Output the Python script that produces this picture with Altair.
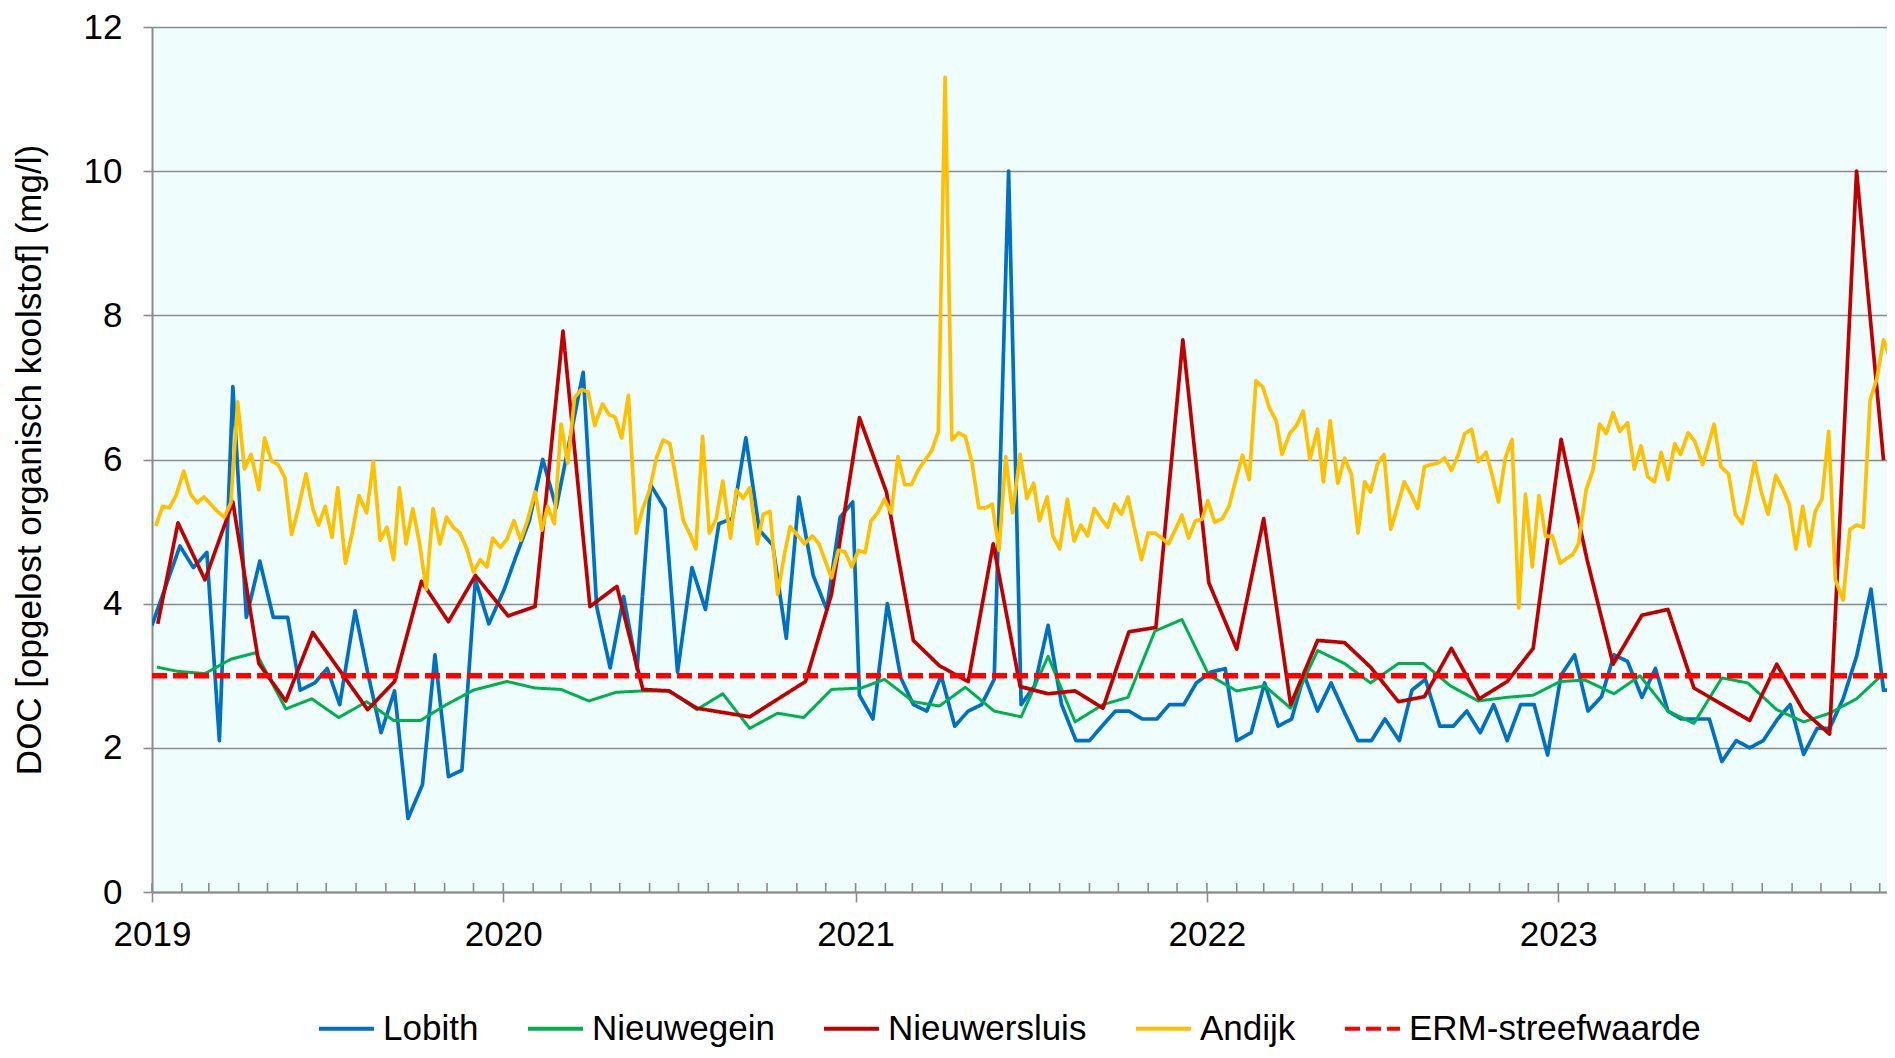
import altair as alt
import pandas as pd

# ---- data (day offset from 2019-01-01, value in mg/l) ----
SERIES = ["Lobith", "Nieuwegein", "Nieuwersluis", "Andijk", "ERM-streefwaarde"]
COLORS = ["#0070C0", "#00B050", "#C00000", "#FFC000", "#FF0000"]
DASHES = [[1, 0], [1, 0], [1, 0], [1, 0], [15, 6]]
WIDTHS = [3.7, 3.0, 3.7, 3.7, 5.5]
YEAR_TICKS = [2019, 2020, 2021, 2022, 2023]
Y_TICKS = [0, 2, 4, 6, 8, 10, 12]

lobith = [(0,3.70),(29,4.80),(43,4.50),(57,4.71),(70,2.10),(84,7.01),(98,3.81),(112,4.59),(126,3.81),(141,3.81),
          (154,2.80),(169,2.90),(182,3.10),(195,2.60),(211,3.90),(224,3.05),(238,2.21),(252,2.79),(266,1.02),(281,1.49),
          (294,3.29),(308,1.60),(322,1.69),(336,4.33),(350,3.72),(366,4.20),(378,4.65),(392,5.15),(406,6.00),(420,5.33),
          (448,7.21),(462,3.96),(476,3.11),(490,4.10),(504,3.09),(518,5.65),(533,5.32),(546,3.05),(561,4.50),(575,3.92),
          (589,5.11),(603,5.18),(617,6.30),(631,5.02),(645,4.81),(659,3.52),(672,5.48),(687,4.39),(701,3.92),(715,5.20),
          (728,5.41),(735,2.73),(749,2.40),(764,4.00),(778,2.97),(791,2.60),(805,2.51),(820,3.00),(834,2.30),(848,2.51),
          (862,2.60),(875,2.95),(890,10.0),(903,2.60),(917,2.86),(931,3.70),(945,2.60),(960,2.10),(974,2.10),(987,2.30),
          (1001,2.51),(1015,2.51),(1029,2.40),(1044,2.40),(1057,2.60),(1072,2.60),(1085,2.90),(1100,3.05),(1115,3.10),
          (1127,2.10),(1142,2.21),(1156,2.90),(1170,2.30),(1184,2.40),(1197,3.01),(1211,2.51),(1225,2.90),(1239,2.49),
          (1253,2.10),(1267,2.10),(1281,2.40),(1296,2.10),(1309,2.80),(1323,2.95),(1338,2.30),(1352,2.30),(1366,2.51),
          (1380,2.21),(1394,2.60),(1408,2.10),(1422,2.60),(1436,2.60),(1450,1.90),(1464,3.01),(1478,3.29),(1492,2.51),
          (1506,2.71),(1519,3.29),(1533,3.20),(1548,2.70),(1562,3.10),(1575,2.51),(1589,2.40),(1603,2.40),(1618,2.40),
          (1631,1.81),(1646,2.10),(1660,2.00),(1674,2.10),(1689,2.40),(1702,2.60),(1716,1.91),(1730,2.27),(1743,2.27),
          (1757,2.68),(1771,3.27),(1786,4.20),(1799,2.80),(1811,2.80)]

nieuwegein = [(5,3.12),(27,3.06),(55,3.03),(82,3.23),(108,3.32),(139,2.54),(166,2.68),(194,2.42),(223,2.64),(251,2.38),
              (279,2.38),(306,2.60),(334,2.80),(369,2.92),(398,2.83),(425,2.81),(454,2.65),(482,2.77),(510,2.79),(538,2.79),
              (566,2.53),(593,2.75),(621,2.27),(650,2.48),(677,2.42),(706,2.81),(737,2.83),(761,2.95),(791,2.64),(818,2.58),
              (845,2.84),(875,2.51),(903,2.43),(931,3.27),(959,2.36),(988,2.60),(1014,2.70),(1042,3.62),(1070,3.78),
              (1098,3.01),(1127,2.79),(1156,2.86),(1183,2.55),(1211,3.35),(1239,3.17),(1266,2.90),(1295,3.17),(1321,3.17),
              (1349,2.86),(1378,2.65),(1407,2.70),(1435,2.73),(1463,2.92),(1489,2.94),(1519,2.75),(1546,3.00),(1575,2.51),
              (1602,2.34),(1631,2.97),(1658,2.90),(1688,2.53),(1716,2.36),(1743,2.48),(1771,2.68),(1799,3.03)]

nieuwersluis = [(6,3.72),(27,5.12),(55,4.33),(84,5.41),(111,3.17),(139,2.65),(167,3.60),(224,2.53),(252,2.92),(280,4.31),
                (308,3.75),(336,4.39),(370,3.83),(398,3.96),(427,7.78),(455,3.96),(483,4.24),(510,2.81),(537,2.79),(566,2.55),
                (621,2.43),(679,2.92),(706,4.13),(735,6.58),(763,5.55),(791,3.49),(818,3.14),(848,2.92),(874,4.83),(902,2.85),
                (931,2.75),(959,2.79),(988,2.55),(1015,3.61),(1043,3.67),(1071,7.66),(1098,4.29),(1127,3.37),(1155,5.18),
                (1183,2.60),(1211,3.49),(1239,3.46),(1266,3.12),(1295,2.64),(1322,2.71),(1350,3.38),(1379,2.68),(1408,2.92),
                (1435,3.38),(1464,6.28),(1491,4.61),(1518,3.16),(1548,3.84),(1575,3.92),(1602,2.83),(1660,2.38),(1688,3.16),
                (1716,2.51),(1743,2.19),(1771,10.0),(1799,5.99)]

andijk = [(4,5.08),(11,5.35),(18,5.33),(25,5.50),(33,5.84),(40,5.52),(47,5.40),(54,5.48),(61,5.38),(68,5.28),(75,5.20),
          (82,5.40),(89,6.80),(96,5.87),(103,6.07),(111,5.58),(117,6.30),(124,5.98),(131,5.93),(138,5.75),(145,4.96),
          (152,5.32),(160,5.80),(167,5.32),(173,5.09),(180,5.35),(187,4.92),(193,5.61),(201,4.56),(208,4.98),(215,5.50),
          (223,5.26),(230,5.97),(237,4.88),(244,5.06),(251,4.61),(257,5.61),(264,4.83),(271,5.32),(278,4.83),(285,4.20),
          (292,5.32),(299,4.83),(306,5.20),(313,5.06),(320,4.98),(327,4.76),(334,4.44),(341,4.61),(348,4.51),(354,4.91),
          (362,4.78),(369,4.90),(376,5.15),(383,4.88),(390,5.15),(398,5.55),(405,5.02),(411,5.35),(418,5.11),(425,6.49),
          (432,5.95),(439,6.86),(446,6.97),(453,6.94),(460,6.47),(468,6.77),(475,6.62),(481,6.59),(488,6.30),(495,6.89),
          (503,4.98),(510,5.32),(517,5.58),(524,6.02),(531,6.27),(538,6.22),(545,5.69),(552,5.15),(559,4.96),(565,4.76),
          (572,6.32),(579,4.98),(586,5.17),(593,5.70),(601,4.91),(607,5.58),(614,5.46),(621,5.61),(629,4.83),(635,5.24),
          (642,5.28),(650,4.13),(657,4.68),(663,5.07),(670,4.96),(678,4.83),(686,4.94),(693,4.83),(699,4.61),(706,4.36),
          (713,4.74),(720,4.72),(727,4.51),(734,4.74),(741,4.71),(747,5.15),(754,5.26),(761,5.45),(768,5.26),(775,6.04),
          (782,5.65),(789,5.65),(796,5.85),(803,5.99),(810,6.12),(817,6.39),(824,11.30),(831,6.27),(838,6.37),(845,6.32),
          (852,5.95),(859,5.33),(866,5.33),(873,5.38),(880,4.74),(887,6.04),(894,5.26),(902,6.07),(909,5.46),(916,5.67),
          (922,5.15),(930,5.48),(936,4.94),(943,4.76),(951,5.45),(958,4.87),(965,5.09),(972,4.94),(979,5.32),(986,5.18),
          (993,5.06),(1000,5.38),(1007,5.24),(1014,5.48),(1021,5.03),(1028,4.61),(1035,4.98),(1042,4.98),(1049,4.91),
          (1056,4.83),(1063,5.02),(1070,5.23),(1077,4.91),(1084,5.15),(1091,5.17),(1097,5.43),(1104,5.13),(1112,5.18),
          (1119,5.35),(1126,5.72),(1133,6.06),(1140,5.72),(1147,7.09),(1154,7.01),(1161,6.71),(1168,6.54),(1174,6.07),
          (1182,6.36),(1189,6.47),(1196,6.67),(1203,6.00),(1211,6.42),(1217,5.69),(1224,6.54),(1232,5.67),(1239,6.02),
          (1246,5.80),(1253,4.98),(1260,5.69),(1266,5.55),(1273,5.93),(1280,6.07),(1287,5.03),(1294,5.35),(1301,5.69),
          (1308,5.52),(1315,5.32),(1322,5.90),(1329,5.93),(1336,5.95),(1343,6.02),(1350,5.85),(1357,6.06),(1364,6.36),
          (1371,6.42),(1378,5.97),(1386,6.10),(1392,5.80),(1399,5.41),(1406,6.02),(1413,6.28),(1420,3.94),(1427,5.52),
          (1434,4.51),(1441,5.50),(1448,4.93),(1455,4.94),(1463,4.56),(1470,4.63),(1476,4.68),(1482,4.83),(1490,5.58),
          (1497,5.85),(1504,6.49),(1511,6.36),(1518,6.65),(1525,6.39),(1533,6.51),(1540,5.87),(1547,6.19),(1554,5.76),
          (1561,5.69),(1568,6.10),(1575,5.72),(1582,6.22),(1588,6.07),(1596,6.37),(1603,6.25),(1611,5.93),(1617,6.21),
          (1623,6.49),(1630,5.90),(1638,5.80),(1645,5.24),(1652,5.11),(1659,5.54),(1665,5.97),(1672,5.55),(1679,5.24),
          (1687,5.78),(1694,5.60),(1701,5.38),(1708,4.76),(1715,5.35),(1722,4.80),(1728,5.28),(1735,5.45),(1742,6.39),
          (1749,4.33),(1757,4.05),(1764,5.03),(1771,5.09),(1778,5.06),(1785,6.82),(1792,7.12),(1799,7.66),(1806,7.40),
          (1811,7.40)]

erm = [(0, 3.0), (1815, 3.0)]

START = pd.Timestamp("2019-01-01")
rows = []
for name, pts in zip(SERIES, [lobith, nieuwegein, nieuwersluis, andijk, erm]):
    for d, v in pts:
        rows.append({"date": START + pd.Timedelta(days=d), "value": v, "series": name})
df = pd.DataFrame(rows)

months = pd.DataFrame({"date": pd.date_range("2019-01-01", "2023-12-01", freq="MS")})

FONT = "Liberation Sans"
GRID = "#8a8a8a"

x_enc = alt.X(
    "date:T",
    title=None,
    scale=alt.Scale(domain=[alt.DateTime(year=2019, month=1, date=1),
                            alt.DateTime(year=2023, month=12, date=8, hours=14, minutes=24)]),
    axis=alt.Axis(values=[alt.DateTime(year=y, month=1, date=1) for y in YEAR_TICKS],
                  format="%Y", labelFontSize=35, labelFont=FONT, labelColor="black",
                  labelPadding=15, labelFlush=False, tickSize=10, tickColor=GRID, tickWidth=1.6,
                  domainColor=GRID, domainWidth=2, grid=False),
)

y_enc = alt.Y("value:Q", scale=alt.Scale(domain=[0, 12], nice=False),
              axis=alt.Axis(values=Y_TICKS, format="d",
                            title="DOC [opgelost organisch koolstof] (mg/l)",
                            titleFontSize=35, titleFont=FONT, titleFontWeight="normal", titleColor="black",
                            titleX=-123, titleY=432.5, titleAngle=270, titleAlign="center",
                            titleBaseline="middle",
                            labelFontSize=35, labelFont=FONT, labelColor="black", labelPadding=21,
                            tickSize=9, tickColor=GRID, tickWidth=1.6,
                            grid=True, gridColor=GRID, gridWidth=1.6,
                            domainColor=GRID, domainWidth=2))

legend = alt.Legend(orient="none", legendX=165, legendY=972, direction="horizontal", title=None,
                    symbolType="stroke", symbolSize=3025, symbolStrokeWidth=4,
                    labelFontSize=35, labelFont=FONT, labelColor="black", labelLimit=600,
                    columnPadding=41, labelOffset=7, padding=0)

color_enc = alt.Color("series:N", scale=alt.Scale(domain=SERIES, range=COLORS), legend=legend)
dash_enc = alt.StrokeDash("series:N", scale=alt.Scale(domain=SERIES, range=DASHES), legend=legend)

minor = alt.Chart(months).mark_rule(color=GRID, strokeWidth=1.6).encode(
    x=x_enc, y=alt.value(865), y2=alt.value(856)
)

layers = [minor]
for name, w in zip(SERIES, WIDTHS):
    layers.append(
        alt.Chart(df).transform_filter(alt.datum.series == name)
        .mark_line(clip=True, strokeJoin="round", strokeWidth=w)
        .encode(x=x_enc, y=y_enc, color=color_enc, strokeDash=dash_enc)
    )

chart = alt.layer(*layers).properties(
    width=1735, height=865,
    autosize=alt.AutoSizeParams(type="none"),
    padding={"left": 144, "top": 19, "right": 0, "bottom": 158},
).configure_view(fill="#EFFDFD", strokeWidth=0)

chart.save("out.html", embed_options={"renderer": "svg", "actions": False})
